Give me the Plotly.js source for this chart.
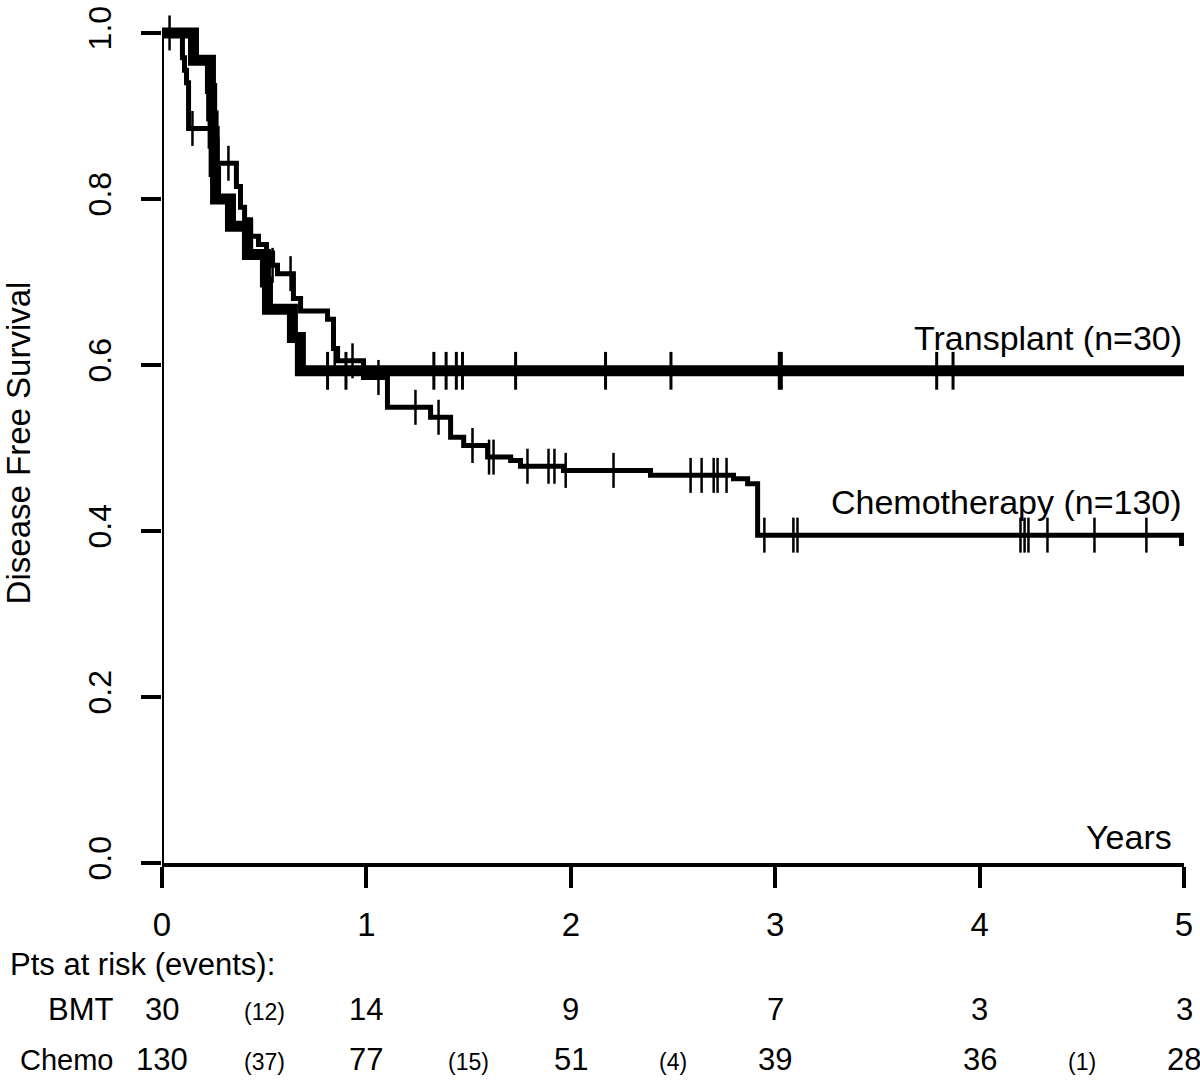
<!DOCTYPE html>
<html>
<head>
<meta charset="utf-8">
<script src="https://cdn.plot.ly/plotly-3.0.1.min.js"></script>
<style>html,body{margin:0;padding:0;background:#fff;}#chart{width:1200px;height:1080px;}</style>
</head>
<body>
<div id="chart"></div>
<script>
// ---- data ----
const transplantTime = [0, 0.154, 0.237, 0.243, 0.250, 0.255, 0.262, 0.335, 0.418, 0.506, 0.516, 0.638, 0.677, 5];
const transplantSurv = [1, 0.967, 0.933, 0.900, 0.867, 0.833, 0.800, 0.767, 0.733, 0.700, 0.667, 0.633, 0.593, 0.593];
const transplantCensor = [0.81, 0.90, 1.33, 1.39, 1.44, 1.47, 1.73, 2.17, 2.49, 3.02, 3.03, 3.79, 3.87];

const chemoTime = [0, 0.100, 0.110, 0.120, 0.130, 0.270, 0.364, 0.384, 0.404, 0.433, 0.472, 0.511, 0.541, 0.565, 0.643, 0.678, 0.810, 0.839, 0.859, 0.986, 1.103, 1.314, 1.412, 1.476, 1.593, 1.706, 1.754, 1.964, 2.390, 2.796, 2.865, 2.914, 4.988, 5];
const chemoSurv = [1, 0.970, 0.955, 0.940, 0.885, 0.843, 0.815, 0.790, 0.775, 0.755, 0.745, 0.735, 0.720, 0.710, 0.680, 0.665, 0.655, 0.620, 0.605, 0.585, 0.549, 0.537, 0.513, 0.503, 0.489, 0.485, 0.478, 0.473, 0.467, 0.463, 0.457, 0.395, 0.385, 0.385];
const chemoCensor = [0.037, 0.149, 0.265, 0.325, 0.44, 0.541, 0.629, 0.845, 0.932, 1.059, 1.240, 1.353, 1.519, 1.600, 1.622, 1.788, 1.891, 1.920, 1.975, 2.209, 2.586, 2.640, 2.699, 2.718, 2.762, 2.947, 3.089, 3.109, 4.200, 4.220, 4.239, 4.332, 4.562, 4.816];

const yearTicks = [0, 1, 2, 3, 4, 5];
const survTicks = [0, 0.2, 0.4, 0.6, 0.8, 1.0];
const survTickText = ['0.0', '0.2', '0.4', '0.6', '0.8', '1.0'];

const bmtAtRisk = [30, 14, 9, 7, 3, 3];
const chemoAtRisk = [130, 77, 51, 39, 36, 28];
const eventMid = [0.5, 1.5, 2.5, 3.5, 4.5];
const bmtEvents = ['(12)', '', '', '', ''];
const chemoEvents = ['(37)', '(15)', '(4)', '', '(1)'];

const curveLabels = ['Transplant (n=30)', 'Chemotherapy (n=130)'];

// step function lookup for censor marks
function stepAt(times, surv, t) {
  let v = surv[0];
  for (let i = 0; i < times.length; i++) { if (times[i] <= t) v = surv[i]; else break; }
  return v;
}

const FONT = 'Liberation Sans, Arial, Helvetica, sans-serif';
const XMAX = 5, YMAX = 1.012;
// convert data coordinates to paper coordinates (for text placed outside the axis ranges)
const px = x => x / XMAX;
const py = y => y / YMAX;

const traces = [
  {x: transplantTime, y: transplantSurv, type: 'scatter', mode: 'lines',
   line: {shape: 'hv', color: '#000', width: 11}, name: 'Transplant', hoverinfo: 'skip'},
  {x: chemoTime, y: chemoSurv, type: 'scatter', mode: 'lines',
   line: {shape: 'hv', color: '#000', width: 5}, name: 'Chemotherapy', hoverinfo: 'skip'},
  {x: transplantCensor, y: transplantCensor.map(t => stepAt(transplantTime, transplantSurv, t)),
   type: 'scatter', mode: 'markers', cliponaxis: false,
   marker: {symbol: 'line-ns', size: 27, color: '#000', line: {width: 3, color: '#000'}}, hoverinfo: 'skip'},
  {x: chemoCensor, y: chemoCensor.map(t => stepAt(chemoTime, chemoSurv, t)),
   type: 'scatter', mode: 'markers', cliponaxis: false,
   marker: {symbol: 'line-ns', size: 25, color: '#000', line: {width: 2.5, color: '#000'}}, hoverinfo: 'skip'}
];

const annotations = [];
const txt = (x, y, text, size, xanchor) => ({x: px(x), y: py(y), xref: 'paper', yref: 'paper',
  xanchor: xanchor, yanchor: 'middle', text: text, showarrow: false,
  font: {family: FONT, size: size, color: '#000'}});

// curve labels
annotations.push(txt(5, 0.6325, curveLabels[0], 34, 'right'));
annotations.push(txt(5, 0.435, curveLabels[1], 34, 'right'));
const yrs = txt(5, 0.031, 'Years', 34, 'right'); yrs.xshift = -10; annotations.push(yrs);

// at-risk table
annotations.push(txt(-0.751, -0.1217, 'Pts at risk (events):', 31, 'left'));
annotations.push(txt(-0.227, -0.177, 'BMT', 31, 'right'));
annotations.push(txt(-0.227, -0.2373, 'Chemo', 29, 'right'));
yearTicks.forEach((yr, i) => {
  annotations.push(txt(yr, -0.177, String(bmtAtRisk[i]), 31, 'center'));
  annotations.push(txt(yr, -0.2373, String(chemoAtRisk[i]), 31, 'center'));
});
eventMid.forEach((m, i) => {
  if (bmtEvents[i]) annotations.push(txt(m, -0.179, bmtEvents[i], 23, 'center'));
  if (chemoEvents[i]) annotations.push(txt(m, -0.2393, chemoEvents[i], 23, 'center'));
});

const layout = {
  width: 1200, height: 1080,
  margin: {l: 162, r: 16, t: 23, b: 217},
  paper_bgcolor: '#fff', plot_bgcolor: '#fff',
  showlegend: false,
  font: {family: FONT, color: '#000', size: 33},
  xaxis: {
    range: [0, XMAX], tickvals: yearTicks, ticktext: yearTicks.map(String),
    ticks: 'outside', ticklen: 21, tickwidth: 4, tickcolor: '#000',
    showline: true, linewidth: 4, linecolor: '#000',
    showgrid: false, zeroline: false, tickfont: {family: FONT, size: 33},
    ticklabelstandoff: 8
  },
  yaxis: {
    range: [0, YMAX], tickvals: survTicks, ticktext: survTickText, tickangle: -90,
    ticks: 'outside', ticklen: 20, tickwidth: 4, tickcolor: '#000',
    showline: false, showgrid: false, zeroline: false,
    tickfont: {family: FONT, size: 32}, ticklabelstandoff: 17,
    title: {text: 'Disease Free Survival', font: {family: FONT, size: 33}, standoff: 42}
  },
  shapes: [
    {type: 'line', xref: 'x', yref: 'y', x0: 0, x1: 0, y0: 0, y1: 1, line: {color: '#000', width: 4}}
  ],
  annotations: annotations
};

Plotly.newPlot('chart', traces, layout, {staticPlot: true, displayModeBar: false});
</script>
</body>
</html>
